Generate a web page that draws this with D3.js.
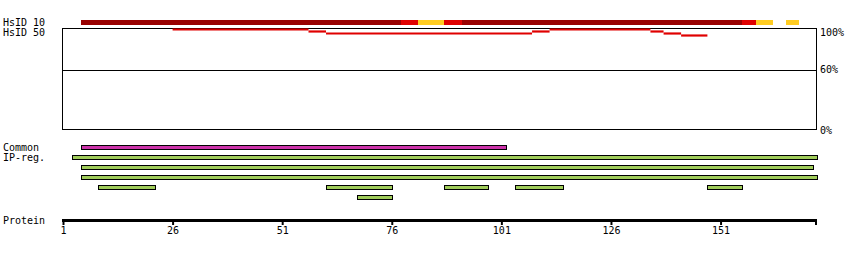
<!DOCTYPE html>
<html>
<head>
<meta charset="utf-8">
<script src="https://cdn.jsdelivr.net/npm/d3@7"></script>
<style>
  body { margin: 0; background: #fff; }
  text { font-family: "DejaVu Sans Mono", monospace; font-size: 10px; fill: #000; }
</style>
</head>
<body>
<div id="chart"></div>
<script>
// Protein length and axis ticks
const proteinLength = 173;
const tickValues = [1, 26, 51, 76, 101, 126, 151];

// HsID 10 identity bar (residue ranges and level)
const hsid10Start = [5, 78, 82, 88, 92, 156, 159, 166];
const hsid10End   = [78, 82, 88, 92, 156, 159, 163, 169];
const hsid10Level = ["high", "mid", "low", "mid", "high", "mid", "low", "low"];

// HsID 50 identity line (percent per residue range)
const hsid50Start = [26, 57, 61, 108, 112, 135, 138, 142];
const hsid50End   = [57, 61, 108, 112, 135, 138, 142, 148];
const hsid50Value = [100, 98, 96, 98, 100, 98, 96, 94];

// Percent axis labels on the right
const percentTicks = [100, 60, 0];

// Common region
const commonStart = [5];
const commonEnd   = [102];

// IP-reg. regions, with the row they sit on
const ipStart = [3, 5, 5, 9, 61, 88, 104, 148, 68];
const ipEnd   = [173, 172, 173, 22, 76, 98, 115, 156, 76];
const ipRow   = [0, 1, 2, 3, 3, 3, 3, 3, 4];

const W = 850, H = 260;

const svg = d3.select("#chart").append("svg")
  .attr("width", W)
  .attr("height", H);

// residue -> x
const x = d3.scaleLinear().domain([1, proteinLength]).range([63, 817]);
// percent -> y
const y = d3.scaleLinear().domain([0, 100]).range([130, 29]);

const levelColor = d3.scaleOrdinal()
  .domain(["high", "mid", "low"])
  .range(["#990000", "#e00000", "#ffcc22"]);

// ---- left labels ----
svg.append("text").attr("x", 3).attr("y", 25.5).text("HsID 10");
svg.append("text").attr("x", 3).attr("y", 36).text("HsID 50");
svg.append("text").attr("x", 3).attr("y", 150.5).text("Common");
svg.append("text").attr("x", 3).attr("y", 160.5).text("IP-reg.");
svg.append("text").attr("x", 3).attr("y", 224).text("Protein");

// ---- HsID 10 bar ----
const hs10 = hsid10Start.map((s, i) => ({ s, e: hsid10End[i], level: hsid10Level[i] }));
svg.append("g").selectAll("rect")
  .data(hs10)
  .enter()
  .append("rect")
  .attr("x", d => x(d.s))
  .attr("y", 20)
  .attr("width", d => x(d.e) - x(d.s))
  .attr("height", 5)
  .attr("fill", d => levelColor(d.level))
  .attr("shape-rendering", "crispEdges");

// ---- HsID 50 box ----
svg.append("rect")
  .attr("x", x(1) - 0.5)
  .attr("y", 28.5)
  .attr("width", x(proteinLength) - x(1))
  .attr("height", 101)
  .attr("fill", "none")
  .attr("stroke", "#000")
  .attr("stroke-width", 1)
  .attr("shape-rendering", "crispEdges");

// 60% line
svg.append("line")
  .attr("x1", x(1))
  .attr("x2", x(proteinLength))
  .attr("y1", Math.ceil(y(60)) + 0.5)
  .attr("y2", Math.ceil(y(60)) + 0.5)
  .attr("stroke", "#000")
  .attr("shape-rendering", "crispEdges");

// percent labels (kept inside the box height)
svg.append("g").selectAll("text")
  .data(percentTicks)
  .enter()
  .append("text")
  .attr("x", 820)
  .attr("y", d => Math.max(y(d) + 3.5, 36))
  .text(d => d + "%");

// HsID 50 step line
const hs50 = hsid50Start.map((s, i) => ({ s, e: hsid50End[i], v: hsid50Value[i] }));
svg.append("g").selectAll("line")
  .data(hs50)
  .enter()
  .append("line")
  .attr("x1", d => x(d.s))
  .attr("x2", d => x(d.e))
  .attr("y1", d => Math.round(y(d.v)) + 0.5)
  .attr("y2", d => Math.round(y(d.v)) + 0.5)
  .attr("stroke", "#e00000")
  .attr("stroke-width", 2.2);

// ---- Common region ----
const common = commonStart.map((s, i) => ({ s, e: commonEnd[i] }));
svg.append("g").selectAll("rect")
  .data(common)
  .enter()
  .append("rect")
  .attr("x", d => Math.round(x(d.s)) + 0.5)
  .attr("y", 145.5)
  .attr("width", d => Math.round(x(d.e) - x(d.s)))
  .attr("height", 4)
  .attr("fill", "#cc33aa")
  .attr("stroke", "#000")
  .attr("stroke-width", 1);

// ---- IP-reg. regions ----
const ip = ipStart.map((s, i) => ({ s, e: ipEnd[i], row: ipRow[i] }));
svg.append("g").selectAll("rect")
  .data(ip)
  .enter()
  .append("rect")
  .attr("x", d => Math.round(x(d.s)) + 0.5)
  .attr("y", d => 155.5 + d.row * 10)
  .attr("width", d => Math.round(x(d.e) - x(d.s)))
  .attr("height", 4)
  .attr("fill", "#a0cc5a")
  .attr("stroke", "#000")
  .attr("stroke-width", 1);

// ---- Protein axis ----
const axisG = svg.append("g")
  .attr("transform", "translate(0,220)")
  .call(d3.axisBottom(x).tickValues(tickValues).tickSize(5).tickSizeOuter(0).tickPadding(1.5));

axisG.select(".domain").remove();
axisG.selectAll(".tick line")
  .attr("stroke", "#000")
  .attr("stroke-width", 2);
axisG.selectAll(".tick text")
  .attr("font-family", "DejaVu Sans Mono, monospace")
  .attr("font-size", 10)
  .attr("fill", "#000");

// thick backbone and end tick
axisG.append("line")
  .attr("x1", x(1) - 1)
  .attr("x2", x(proteinLength))
  .attr("y1", 0.5)
  .attr("y2", 0.5)
  .attr("stroke", "#000")
  .attr("stroke-width", 3);
axisG.append("line")
  .attr("x1", x(proteinLength) - 1)
  .attr("x2", x(proteinLength) - 1)
  .attr("y1", 0)
  .attr("y2", 5)
  .attr("stroke", "#000")
  .attr("stroke-width", 2);
</script>
</body>
</html>
